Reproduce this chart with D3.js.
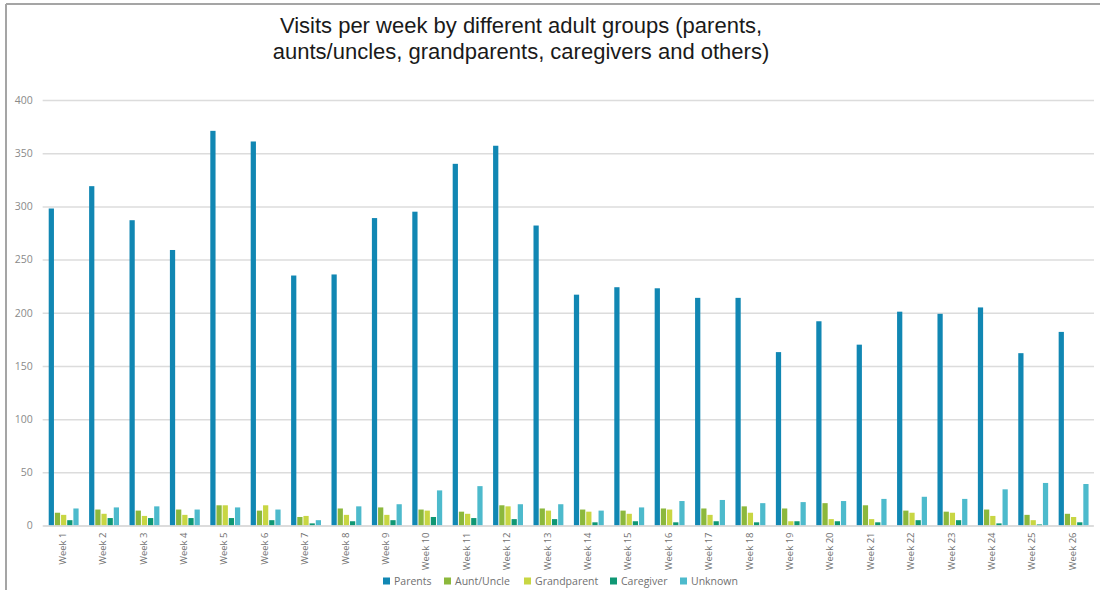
<!DOCTYPE html>
<html>
<head>
<meta charset="utf-8">
<script src="https://cdn.jsdelivr.net/npm/d3@7"></script>
<style>
  html, body { margin: 0; padding: 0; background: #fff; }
  svg { display: block; }
</style>
</head>
<body>
<svg id="chart" width="1100" height="590"></svg>
<script>
// Weekly visit counts by adult group
const weeks = d3.range(1, 27).map(i => "Week " + i);
const seriesNames = ["Parents", "Aunt/Uncle", "Grandparent", "Caregiver", "Unknown"];
const parents     = [298, 319, 287, 259, 371, 361, 235, 236, 289, 295, 340, 357, 282, 217, 224, 223, 214, 214, 163, 192, 170, 201, 199, 205, 162, 182];
const auntUncle   = [12, 15, 14, 15, 19, 14, 8, 16, 17, 15, 13, 19, 16, 15, 14, 16, 16, 18, 16, 21, 19, 14, 13, 15, 10, 11];
const grandparent = [10, 11, 9, 10, 19, 19, 9, 10, 10, 14, 11, 18, 14, 13, 11, 15, 10, 12, 4, 6, 6, 12, 12, 9, 5, 8];
const caregiver   = [5, 7, 7, 7, 7, 5, 2, 4, 5, 8, 7, 6, 6, 3, 4, 3, 4, 3, 4, 4, 3, 5, 5, 2, 1, 3];
const unknown     = [16, 17, 18, 15, 17, 15, 5, 18, 20, 33, 37, 20, 20, 14, 17, 23, 24, 21, 22, 23, 25, 27, 25, 34, 40, 39];
const yTicks = [0, 50, 100, 150, 200, 250, 300, 350, 400];
const colors = ["#1187b3", "#8cb83c", "#c8d643", "#0f9774", "#4dbacc"];

const seriesValues = [parents, auntUncle, grandparent, caregiver, unknown];
const rows = weeks.map((w, i) => ({
  week: w,
  values: seriesNames.map((s, k) => ({ key: s, value: seriesValues[k][i] }))
}));

const svg = d3.select("#chart");

// frame lines
svg.append("line").attr("x1", 6).attr("x2", 1100).attr("y1", 4).attr("y2", 4)
  .attr("stroke", "#a5a5a5").attr("stroke-width", 2);
svg.append("line").attr("x1", 6).attr("x2", 6).attr("y1", 4).attr("y2", 590)
  .attr("stroke", "#a5a5a5").attr("stroke-width", 2);

// title
const title = svg.append("text")
  .attr("x", 521).attr("y", 33)
  .attr("text-anchor", "middle")
  .attr("font-family", "'Liberation Sans Narrow', 'Liberation Sans', Arial, sans-serif")
  .attr("font-size", 22)
  .attr("fill", "#1a1a1a");
title.append("tspan").attr("x", 521).attr("dy", 0).text("Visits per week by different adult groups (parents,");
title.append("tspan").attr("x", 521).attr("dy", 26).text("aunts/uncles, grandparents, caregivers and others)");

const plotLeft = 42.65, plotRight = 1093, plotTop = 100, plotBottom = 525.5;

const x0 = d3.scaleBand().domain(weeks).range([plotLeft, plotRight]).padding(0);
const x1 = d3.scaleBand().domain(seriesNames)
  .range([x0.bandwidth() * 0.15, x0.bandwidth() * 0.89]).paddingInner(0.15);
const y = d3.scaleLinear().domain([0, 400]).range([plotBottom, plotTop]);
const color = d3.scaleOrdinal().domain(seriesNames).range(colors);

// gridlines and y labels
const yAxis = d3.axisLeft(y).tickValues(yTicks).tickSize(-(plotRight - plotLeft + 1)).tickPadding(10);
const gy = svg.append("g").attr("transform", `translate(${plotLeft},0)`).call(yAxis);
gy.select(".domain").remove();
gy.selectAll(".tick line").attr("stroke", "#dcdcdc").attr("stroke-width", 1.5);
gy.selectAll(".tick text")
  .attr("fill", "#8a8a8a")
  .attr("font-family", "'Open Sans', 'Liberation Sans', sans-serif")
  .attr("font-size", 10.5);

// bars
const groups = svg.append("g").selectAll("g")
  .data(rows).join("g")
  .attr("transform", d => `translate(${x0(d.week)},0)`);
groups.selectAll("rect")
  .data(d => d.values).join("rect")
  .attr("x", d => x1(d.key))
  .attr("width", x1.bandwidth())
  .attr("y", d => y(d.value))
  .attr("height", d => y(0) - y(d.value))
  .attr("fill", d => color(d.key));

// x axis labels
const xAxis = d3.axisBottom(x0).tickSize(0).tickPadding(0);
const gx = svg.append("g").attr("transform", `translate(0,${plotBottom})`).call(xAxis);
gx.select(".domain").attr("stroke", "#d9d9d9").attr("stroke-width", 1.5);
gx.selectAll(".tick text")
  .attr("fill", "#6f6f6f")
  .attr("font-family", "'Open Sans', 'Liberation Sans', sans-serif")
  .attr("font-size", 9.5)
  .attr("text-anchor", "end")
  .attr("dy", null)
  .attr("transform", "translate(3,7) rotate(-90)")
  .attr("dominant-baseline", "auto")
  .attr("x", 0).attr("y", 0);

// legend
const legendItems = [
  { key: "Parents", x: 383 },
  { key: "Aunt/Uncle", x: 444 },
  { key: "Grandparent", x: 524 },
  { key: "Caregiver", x: 610 },
  { key: "Unknown", x: 680 }
];
const lg = svg.append("g").attr("transform", "translate(0,581)");
const li = lg.selectAll("g").data(legendItems).join("g")
  .attr("transform", d => `translate(${d.x},0)`);
li.append("rect").attr("x", 0).attr("y", -3.5).attr("width", 7).attr("height", 7)
  .attr("fill", d => color(d.key));
li.append("text").attr("x", 11).attr("y", 0).attr("dy", "0.35em")
  .attr("fill", "#707070")
  .attr("font-family", "'Open Sans', 'Liberation Sans', sans-serif")
  .attr("font-size", 10.5)
  .text(d => d.key);
</script>
</body>
</html>
